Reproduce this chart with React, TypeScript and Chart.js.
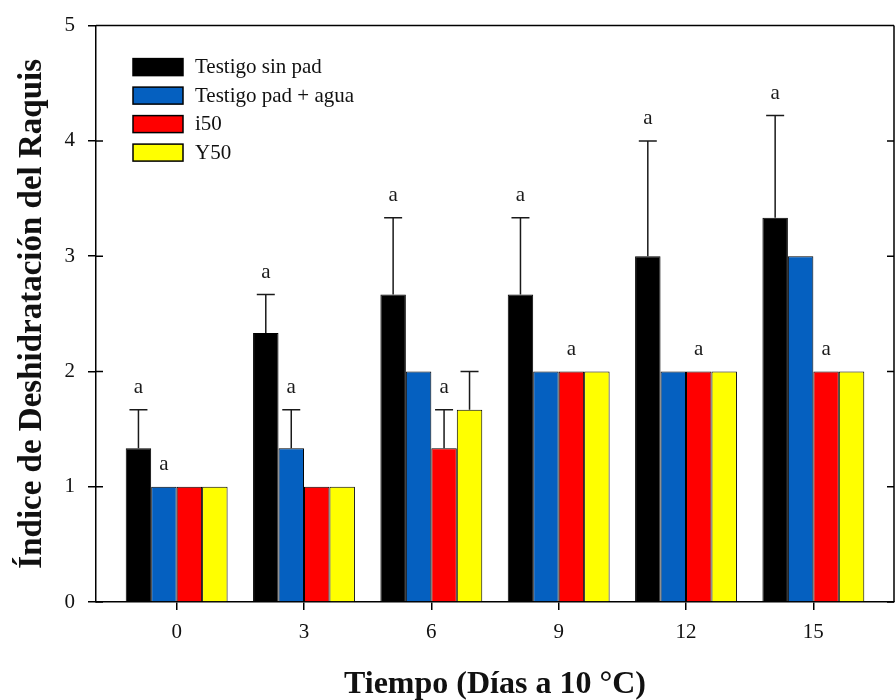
import React, { useEffect, useRef } from "react";
import { Chart, registerables } from "chart.js";

Chart.register(...registerables);

const categories = [0, 3, 6, 9, 12, 15];
const seriesNames = ["Testigo sin pad", "Testigo pad + agua", "i50", "Y50"];
const seriesColors = ["#000000", "#0560C0", "#FF0000", "#FFFF00"];

const testigoSinPad = [1.333, 2.333, 2.667, 2.667, 3.0, 3.333];
const testigoSinPadErr = [1.667, 2.667, 3.333, 3.333, 4.0, 4.22];
const testigoSinPadLabels = ["a", "a", "a", "a", "a", "a"];

const testigoPadAgua = [1, 1.333, 2, 2, 2, 3];
const testigoPadAguaErr = [null, 1.667, null, null, null, null];
const testigoPadAguaLabels = ["a", "a", "", "", "", ""];

const i50 = [1, 1, 1.333, 2, 2, 2];
const i50Err = [null, null, 1.667, null, null, null];
const i50Labels = ["", "", "a", "a", "a", "a"];

const y50 = [1, 1, 1.667, 2, 2, 2];
const y50Err = [null, null, 2.0, null, null, null];
const y50Labels = ["", "", "", "", "", ""];

const yTicks = [0, 1, 2, 3, 4, 5];

const xTitle = "Tiempo (Días a 10 °C)";
const yTitle = "Índice de Deshidratación del Raquis";

const SERIF = "'Liberation Serif', 'Times New Roman', serif";

const allValues = [testigoSinPad, testigoPadAgua, i50, y50];
const allErr = [testigoSinPadErr, testigoPadAguaErr, i50Err, y50Err];
const allLabels = [testigoSinPadLabels, testigoPadAguaLabels, i50Labels, y50Labels];

const decorPlugin = {
  id: "decor",
  afterDatasetsDraw(chart: any) {
    const { ctx, chartArea, scales } = chart;
    const ys = scales.y;
    ctx.save();
    // error bars and significance letters
    chart.data.datasets.forEach((ds: any, di: number) => {
      const meta = chart.getDatasetMeta(di);
      const errs = ds.err as (number | null)[];
      const labs = ds.sig as string[];
      meta.data.forEach((bar: any, i: number) => {
        const e = errs[i];
        let topY = bar.y;
        if (e !== null && e !== undefined) {
          const ey = ys.getPixelForValue(e);
          ctx.strokeStyle = "#1a1a1a";
          ctx.lineWidth = 1.5;
          ctx.beginPath();
          ctx.moveTo(bar.x, bar.y);
          ctx.lineTo(bar.x, ey);
          ctx.moveTo(bar.x - 9, ey);
          ctx.lineTo(bar.x + 9, ey);
          ctx.stroke();
          topY = ey;
        }
        if (labs[i]) {
          ctx.fillStyle = "#1a1a1a";
          ctx.font = `21px ${SERIF}`;
          ctx.textAlign = "center";
          ctx.textBaseline = "middle";
          ctx.fillText(labs[i], bar.x, topY - 22);
        }
      });
    });
    // frame: top, right, inner ticks
    ctx.strokeStyle = "#000";
    ctx.lineWidth = 1.5;
    ctx.beginPath();
    ctx.moveTo(chartArea.left, chartArea.top);
    ctx.lineTo(chartArea.right, chartArea.top);
    ctx.moveTo(chartArea.right, chartArea.top);
    ctx.lineTo(chartArea.right, chartArea.bottom);
    yTicks.forEach((v) => {
      const py = ys.getPixelForValue(v);
      ctx.moveTo(chartArea.left, py);
      ctx.lineTo(chartArea.left + 7, py);
      ctx.moveTo(chartArea.right, py);
      ctx.lineTo(chartArea.right - 7, py);
    });
    ctx.stroke();
    // legend
    const lx = chartArea.left + 37;
    const ly = chartArea.top + 33;
    chart.data.datasets.forEach((ds: any, di: number) => {
      const y = ly + di * 28.5;
      ctx.fillStyle = ds.backgroundColor;
      ctx.fillRect(lx, y, 50, 17);
      ctx.strokeStyle = "#000";
      ctx.lineWidth = 1.5;
      ctx.strokeRect(lx, y, 50, 17);
      ctx.fillStyle = "#111";
      ctx.font = `21px ${SERIF}`;
      ctx.textAlign = "left";
      ctx.textBaseline = "middle";
      ctx.fillText(ds.label, lx + 62, y + 9);
    });
    ctx.restore();
  },
};

export default function App() {
  const ref = useRef<HTMLCanvasElement | null>(null);
  useEffect(() => {
    document.body.style.margin = "0";
    const canvas = ref.current;
    if (!canvas) return;
    const datasets = allValues.map((vals, si) => ({
      label: seriesNames[si],
      data: vals.map((v, i) => ({ x: categories[i], y: v })),
      err: allErr[si],
      sig: allLabels[si],
      backgroundColor: seriesColors[si],
      borderColor: "#000",
      borderWidth: 1,
      categoryPercentage: 0.8,
      barPercentage: 1.0,
    }));
    const chart = new Chart(canvas, {
      type: "bar",
      data: { datasets: datasets as any },
      options: {
        animation: false,
        responsive: false,
        layout: { padding: { top: 24, right: 1, left: 0, bottom: 0 } },
        plugins: {
          legend: { display: false },
          tooltip: { enabled: false },
        },
        scales: {
          x: {
            type: "linear",
            min: -1.9,
            max: 16.9,
            offset: false,
            afterBuildTicks: (scale: any) => {
              scale.ticks = categories.map((v) => ({ value: v }));
            },
            afterFit: (scale: any) => {
              scale.height = 98;
            },
            ticks: {
              color: "#111",
              font: { family: SERIF, size: 21 },
              padding: 10,
              maxRotation: 0,
              autoSkip: false,
            },
            grid: {
              display: true,
              offset: false,
              drawOnChartArea: false,
              drawTicks: true,
              tickLength: 8,
              color: "#000",
              lineWidth: 1.5,
            },
            border: { display: true, color: "#000", width: 1.5 },
            title: {
              display: true,
              text: xTitle,
              color: "#111",
              font: { family: SERIF, size: 32, weight: "bold", lineHeight: 1 },
              padding: { top: 0, bottom: -1 },
            },
          },
          y: {
            type: "linear",
            min: 0,
            max: 5,
            afterBuildTicks: (scale: any) => {
              scale.ticks = yTicks.map((v) => ({ value: v }));
            },
            afterFit: (scale: any) => {
              scale.width = 96;
            },
            ticks: {
              color: "#111",
              font: { family: SERIF, size: 21 },
              padding: 13,
            },
            grid: {
              display: true,
              drawOnChartArea: false,
              drawTicks: true,
              tickLength: 8,
              color: "#000",
              lineWidth: 1.5,
            },
            border: { display: true, color: "#000", width: 1.5 },
            title: {
              display: true,
              text: yTitle,
              color: "#111",
              font: { family: SERIF, size: 33, weight: "bold", lineHeight: 1 },
              padding: { top: 16, bottom: 0 },
            },
          },
        },
      } as any,
      plugins: [decorPlugin],
    });
    return () => chart.destroy();
  }, []);
  return (
    <div style={{ width: 895, height: 700, background: "#fff" }}>
      <canvas ref={ref} width={895} height={700} style={{ display: "block" }} />
    </div>
  );
}
